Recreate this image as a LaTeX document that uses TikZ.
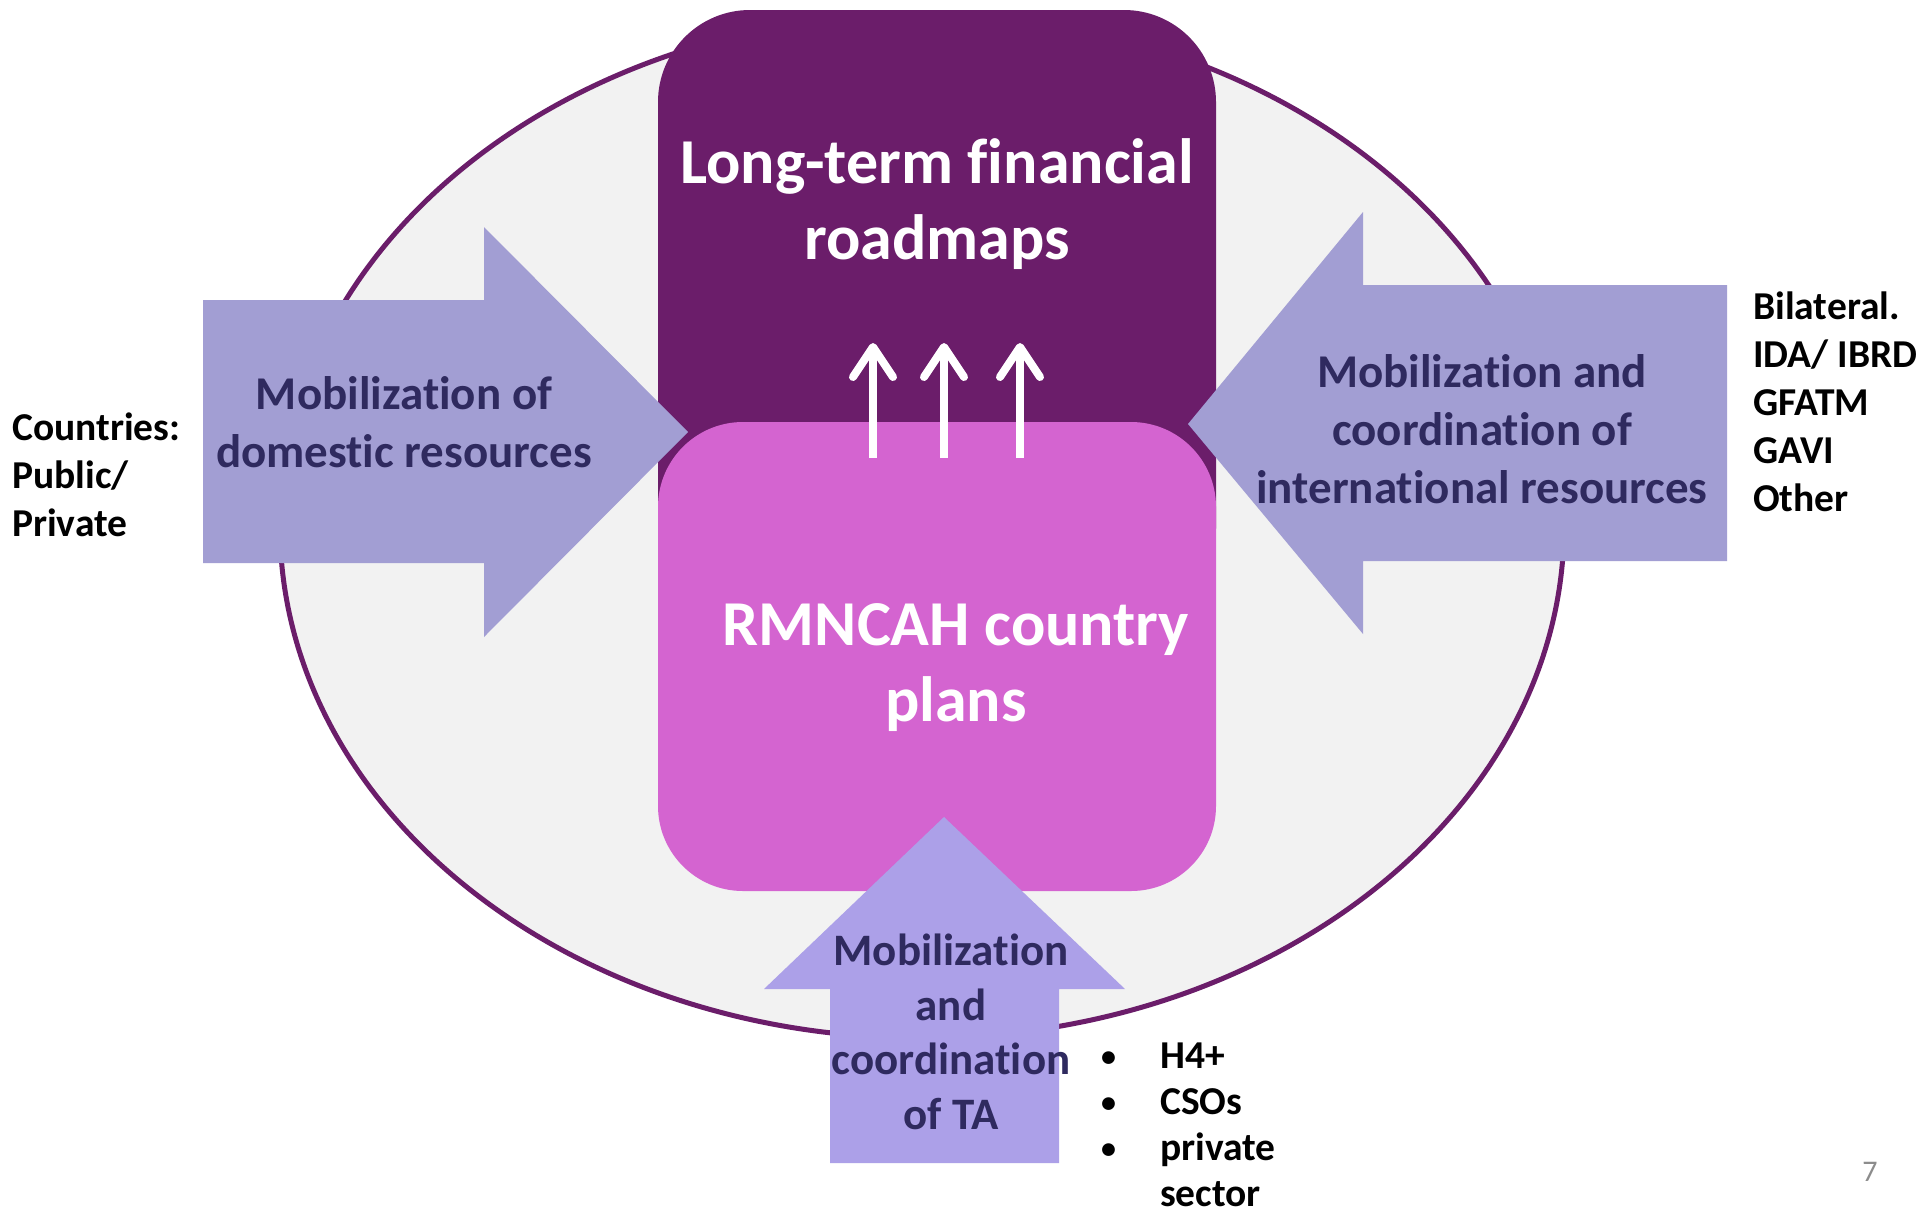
\documentclass[tikz,border=0pt]{standalone}
\usepackage{fontspec}
\setmainfont{Carlito}[Ligatures=NoCommon]
\usetikzlibrary{arrows.meta}
\definecolor{darkpurple}{RGB}{107,29,106}
\definecolor{pinkbox}{RGB}{212,100,208}
\definecolor{arrowfill}{RGB}{162,158,211}
\definecolor{bottomfill}{RGB}{172,160,232}
\definecolor{navytext}{RGB}{47,42,95}
\definecolor{ellfill}{RGB}{242,242,242}
\definecolor{pagegray}{RGB}{140,140,140}
\newcommand{\smbullet}{\makebox[59pt][l]{\raisebox{2pt}{\fontsize{30}{30}\selectfont\textbullet}}}
\tikzset{
  boxtitle/.style={text=white, align=center, inner sep=0pt, font=\bfseries\fontsize{64}{76}\selectfont},
  arrowtext/.style={text=navytext, align=center, inner sep=0pt, font=\bfseries\fontsize{47}{58}\selectfont},
  sidelist/.style={text=black, align=left, inner sep=0pt, font=\bfseries\fontsize{39.5}{48}\selectfont},
  blockarrow/.style={fill=arrowfill, draw=none},
  whitearrow/.style={draw=white, line width=8pt, -{Straight Barb[length=30pt,width=40pt,line cap=round,line join=round]}},
}
\begin{document}
\begin{tikzpicture}[x=1pt,y=-1pt]
\useasboundingbox (0,0) rectangle (1920,1216);
\fill[white] (0,0) rectangle (1920,1216);
% background ellipse
\draw[fill=ellfill, draw=darkpurple, line width=5pt] (922,526) ellipse [x radius=642, y radius=512];
% boxes
\fill[darkpurple, rounded corners=92pt] (658,10) rectangle (1216,620);
\fill[pinkbox, rounded corners=85pt] (658,422) rectangle (1216,891);
% white arrows
\coordinate (a1s) at (873,458); \coordinate (a1e) at (873,345);
\coordinate (a2s) at (944,458); \coordinate (a2e) at (944,345);
\coordinate (a3s) at (1020,458); \coordinate (a3e) at (1020,345);
\draw[whitearrow, shorten >=-2pt] (a1s) -- (a1e);
\draw[whitearrow, shorten >=-2pt] (a2s) -- (a2e);
\draw[whitearrow, shorten >=-2pt] (a3s) -- (a3e);
% left block arrow
\fill[blockarrow] (203,300) -- (484,300) -- (484,227) -- (688,432) -- (484,637) -- (484,563) -- (203,563) -- cycle;
% right block arrow
\fill[blockarrow] (1727,285) -- (1363,285) -- (1363,212) -- (1188,424) -- (1363,634) -- (1363,561) -- (1727,561) -- cycle;
% bottom block arrow
\fill[bottomfill] (830,1163) -- (830,989) -- (764,989) -- (944,817) -- (1125,989) -- (1059,989) -- (1059,1163) -- cycle;
% texts
\node[boxtitle] (title) at (937,204) {Long-term financial\\roadmaps};
\node[boxtitle] (plans) at (956,668) {RMNCAH country\\plans};
\node[arrowtext] (dom) at (404,422) {Mobilization of\\domestic resources};
\node[arrowtext] (intl) at (1482,429) {Mobilization and\\coordination of\\international resources};
\node[arrowtext, font=\bfseries\fontsize{45}{54.5}\selectfont] (ta) at (951,1032) {Mobilization\\and\\coordination\\of TA};
\node[sidelist, anchor=west] (ctry) at (12,475) {Countries:\\Public/\\Private};
\node[sidelist, anchor=west] (donors) at (1753,402) {Bilateral.\\IDA/ IBRD\\GFATM\\GAVI\\Other};
\node[sidelist, anchor=north west, font=\bfseries\fontsize{39.5}{46}\selectfont] (ta list) at (1101,1043) {\smbullet H4+\\\smbullet CSOs\\\smbullet private\\\hspace*{59pt}sector};
\node[text=pagegray, inner sep=0pt, font=\fontsize{30}{36}\selectfont] (pnum) at (1870,1172) {7};
\end{tikzpicture}
\end{document}
